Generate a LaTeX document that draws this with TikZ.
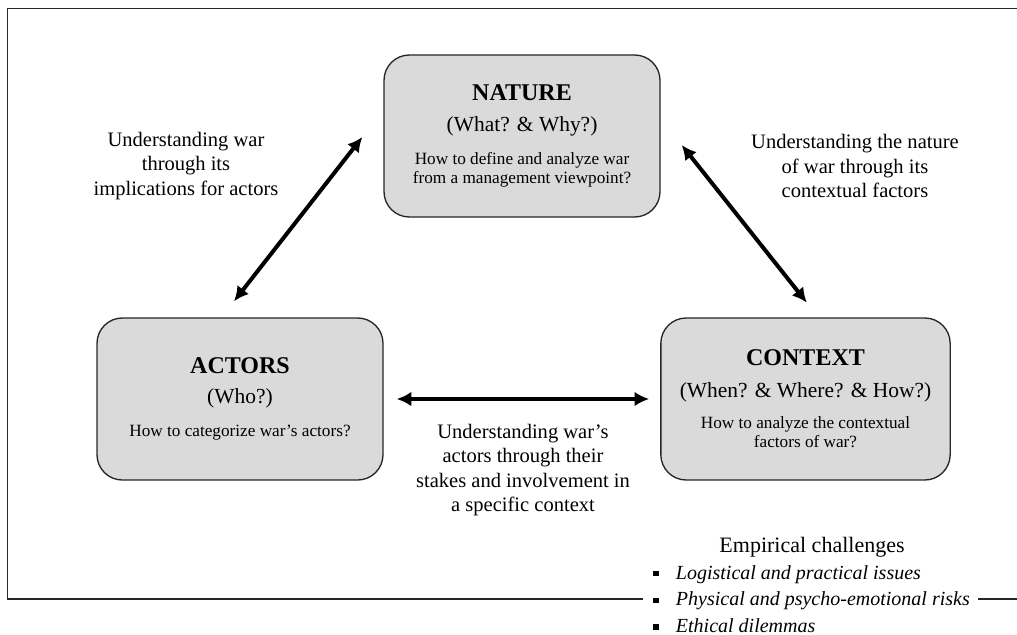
\documentclass[tikz,border=0pt]{standalone}
\usepackage{fontspec}
\setmainfont{Liberation Serif}
\usepackage{tikz}
\usetikzlibrary{arrows.meta, positioning, shapes}
\definecolor{boxgray}{HTML}{DADADA}
\newcommand{\ttl}[1]{{\fontsize{18}{22}\selectfont\bfseries #1}}
\newcommand{\qst}[1]{{\fontsize{16.1}{20}\selectfont #1}}
\newcommand{\sub}{\fontsize{12.9}{14.5}\selectfont\lineskiplimit=-50pt}
\newcommand{\sqbullet}{\raisebox{2.2pt}{\rule{4pt}{4pt}}}

\begin{document}
\begin{tikzpicture}[x=0.75pt,y=-0.75pt,
	theme/.style={draw=black!85, line width=1pt, fill=boxgray, rounded corners=19pt,
		minimum height=121.5pt, align=center, inner sep=0pt, font=\sub},
	link/.style={line width=3pt, {Latex[length=11pt,width=11pt]}-{Latex[length=11pt,width=11pt]}},
	note/.style={align=center, font=\fontsize{15.4}{18.4}\selectfont},
	frame/.style={line width=1.4pt, black!85}]
\useasboundingbox (0,0) rectangle (1017,635);

\node(nature)[theme, minimum width=207pt] at (522,136)
	{\ttl{NATURE}\\[8.5pt] \qst{(What? \& Why?)}\\[10pt] How to define and analyze war\\ from a management viewpoint?};
\node(actors)[theme, minimum width=214.5pt] at (240,399)
	{\ttl{ACTORS}\\[8pt] \qst{(Who?)}\\[10.5pt] How to categorize war's actors?};
\node(context)[theme, minimum width=217pt] at (805.5,399)
	{\ttl{CONTEXT}\\[9.5pt] \qst{(When? \& Where? \& How?)}\\[8.5pt] How to analyze the contextual\\ factors of war?};

\node(lact)[note] at (186,166) {Understanding war\\ through its\\ implications for actors};
\node(lctx)[note] at (855,166) {Understanding the nature\\ of war through its\\ contextual factors};
\node(lmid)[note] at (523,470) {Understanding war's\\ actors through their\\ stakes and involvement in\\ a specific context};

\draw[link] ([xshift=-4.5pt,yshift=12pt]actors.north) -- ([xshift=-15.75pt,yshift=-0.75pt]nature.west);
\draw[link] ([xshift=15.75pt,yshift=-6.75pt]nature.east) -- ([xshift=1pt,yshift=11pt]context.north);
\draw[link] ([xshift=9.75pt]actors.east) -- ([xshift=-8.25pt]context.west);

% empirical challenges
\node(emp)[note, font=\fontsize{16.5}{20}\selectfont] at (812,547) {Empirical challenges};
\node(risks)[anchor=north west, align=left, inner sep=0pt, font=\fontsize{15}{20}\selectfont\itshape] at (653,565)
	{\sqbullet\hspace{13pt}Logistical and practical issues\\
	 \sqbullet\hspace{13pt}Physical and psycho-emotional risks\\
	 \sqbullet\hspace{13pt}Ethical dilemmas};

\draw[frame] (643,599) -- (7.5,599) -- (7.5,8.5) -- (1017,8.5);
\draw[frame] (978,599) -- (1017,599);
\end{tikzpicture}
\end{document}
